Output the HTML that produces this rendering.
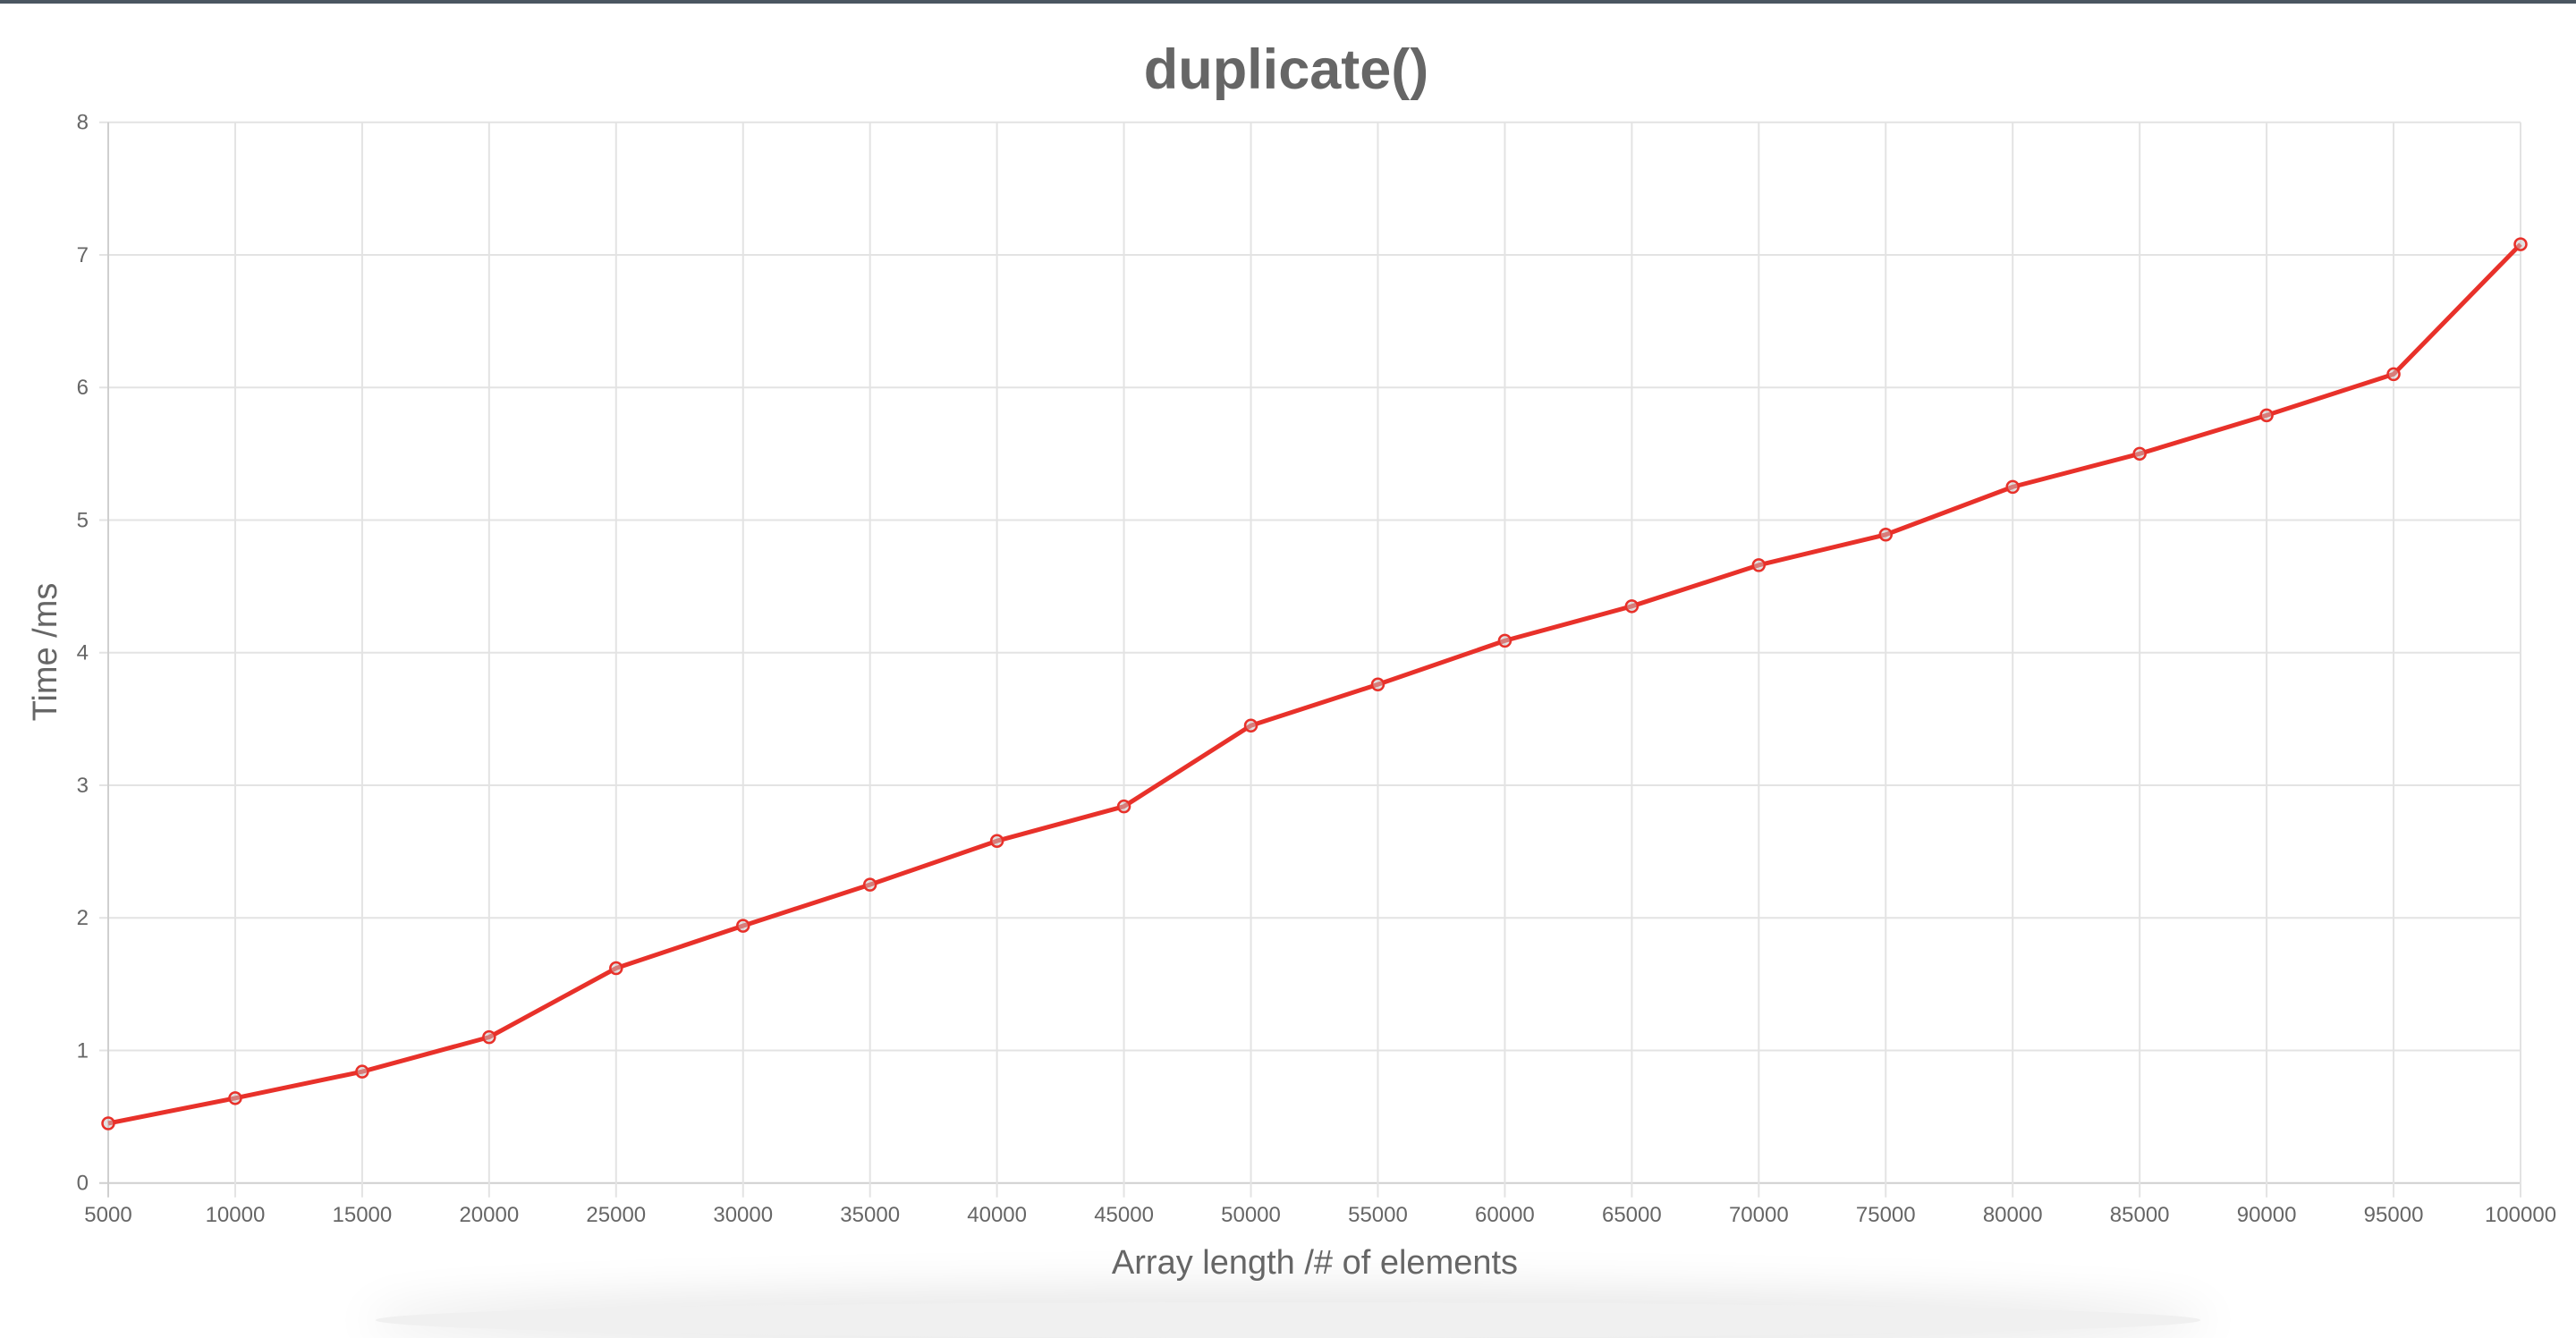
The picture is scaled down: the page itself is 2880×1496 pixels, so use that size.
<!DOCTYPE html>
<html><head><meta charset="utf-8"><style>
html,body{margin:0;padding:0;background:#fff;}
body{width:2880px;height:1464px;overflow:hidden;position:relative;font-family:"Liberation Sans",sans-serif;}
#topbar{position:absolute;left:0;top:0;width:2880px;height:4px;background:#4b5661;}
#shadow{position:absolute;left:420px;top:1456px;width:2040px;height:40px;border-radius:50%;box-shadow:0 0 50px 14px rgba(0,0,0,0.10);background:#f0f0f0;}
svg{position:absolute;left:0;top:0;}
</style></head><body>
<div id="topbar"></div>
<div id="shadow"></div>
<svg id="chart" width="2880" height="1464"></svg>
<script>
const categories=[5000,10000,15000,20000,25000,30000,35000,40000,45000,50000,55000,60000,65000,70000,75000,80000,85000,90000,95000,100000];
const timeValues=[0.45,0.64,0.84,1.10,1.62,1.94,2.25,2.58,2.84,3.45,3.76,4.09,4.35,4.66,4.89,5.25,5.50,5.79,6.10,7.08];
const yTicks=[0,1,2,3,4,5,6,7,8];
const NS="http://www.w3.org/2000/svg";
const svg=document.getElementById('chart');
const L=121,R=2818,T=136.7,B=1322.7,yMax=8;
function xs(i){return L+(R-L)*i/(categories.length-1);}
function ys(v){return B-(B-T)*v/yMax;}
function mk(tag,attrs,parent){const e=document.createElementNS(NS,tag);for(const k in attrs)e.setAttribute(k,attrs[k]);(parent||svg).appendChild(e);return e;}
yTicks.forEach(v=>{
  const ln=mk('line',{x1:L-10,x2:R,y1:ys(v),y2:ys(v),stroke:v===0?'#cfcfcf':'#e3e3e3','stroke-width':2});
  
  
  const t=mk('text',{x:L-22,y:ys(v)+8,'text-anchor':'end','font-size':24,fill:'#666'});
  t.textContent=v;
  
  
});
categories.forEach((c,i)=>{
  const ln=mk('line',{x1:xs(i),x2:xs(i),y1:T,y2:B+16,stroke:i===0?'#cfcfcf':'#e3e3e3','stroke-width':2});
  
  
  const t=mk('text',{x:xs(i),y:1366,'text-anchor':'middle','font-size':24,fill:'#666'});
  t.textContent=c;
  
  
});
const pts=timeValues.map((v,i)=>xs(i)+','+ys(v)).join(' ');
const pl=mk('polyline',{points:pts,fill:'none',stroke:'#e8312a','stroke-width':5,'stroke-linejoin':'round'});


timeValues.forEach((v,i)=>{
  const c=mk('circle',{cx:xs(i),cy:ys(v),r:6.5,fill:'rgba(200,200,200,0.5)',stroke:'#e8312a','stroke-width':2.5});
  
  
});
const tt=mk('text',{x:1438,y:99,'text-anchor':'middle','font-size':63,'font-weight':'bold',fill:'#666'});
tt.textContent='duplicate()';


const xt=mk('text',{x:1470,y:1424,'text-anchor':'middle','font-size':38,fill:'#666'});
xt.textContent='Array length /# of elements';


const yt=mk('text',{x:0,y:0,'text-anchor':'middle','font-size':38,fill:'#666',transform:'translate(63,729) rotate(-90)'});
yt.textContent='Time /ms';


</script>
</body></html>
